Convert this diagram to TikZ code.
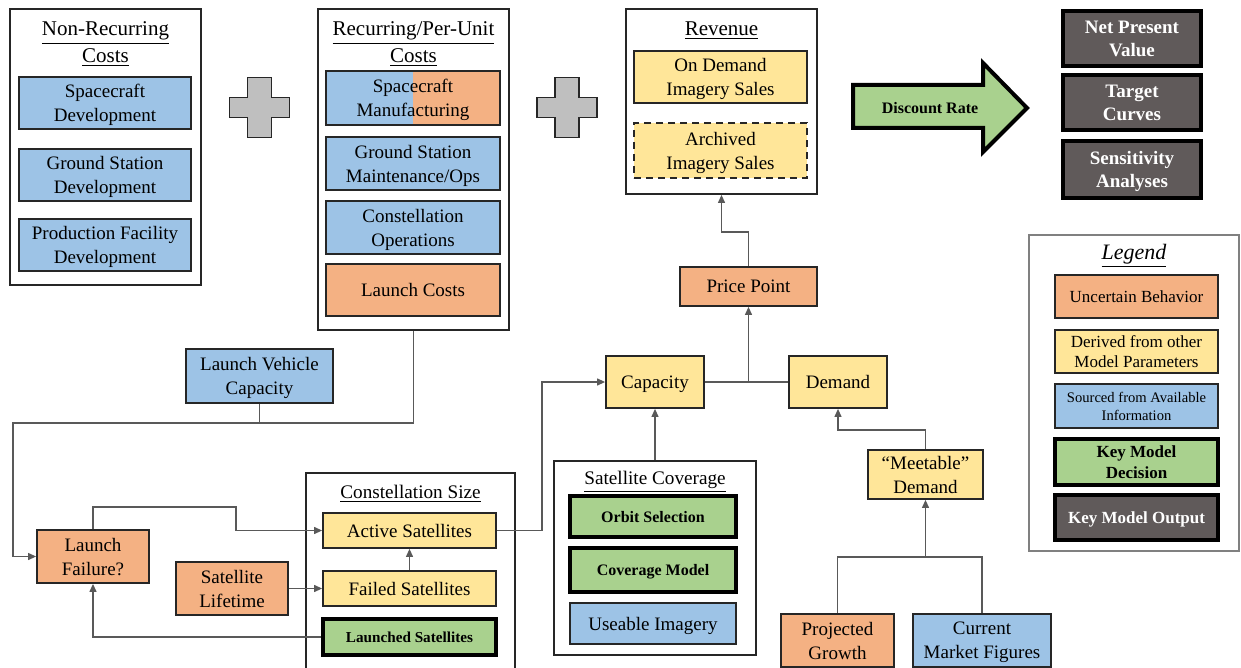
\documentclass[tikz,border=0pt]{standalone}
\usepackage{fontspec}
\setmainfont{Liberation Serif}
\usetikzlibrary{arrows.meta}

\definecolor{blueC}{RGB}{157,195,230}
\definecolor{orangeC}{RGB}{244,177,131}
\definecolor{yellowC}{RGB}{255,230,153}
\definecolor{greenC}{RGB}{169,209,142}
\definecolor{greyC}{RGB}{96,90,90}
\definecolor{plusC}{RGB}{191,191,191}
\definecolor{lineC}{RGB}{89,89,89}
\definecolor{edgeC}{RGB}{38,38,38}

\tikzset{
  box/.style={draw=edgeC, line width=0.9pt, align=center, inner sep=1pt, text depth=0pt, font=\fontsize{9.5}{12}\selectfont},
  uncert/.style={box, fill=orangeC},
  derived/.style={box, fill=yellowC},
  sourced/.style={box, fill=blueC},
  decision/.style={box, fill=greenC, draw=black, line width=1.8pt, font=\fontsize{8}{10}\selectfont\bfseries},
  output/.style={box, fill=greyC, draw=black, line width=1.8pt, text=white, font=\fontsize{9.5}{11.5}\selectfont\bfseries},
  lg/.style={minimum width=81.5pt, minimum height=21.5pt},
  frame/.style={draw=black!85, line width=0.9pt, fill=white},
  title/.style={align=center, inner sep=0pt, font=\fontsize{10.5}{13.5}\selectfont},
  wire/.style={draw=lineC, line width=0.6pt},
  flow/.style={wire, -{Triangle[length=4pt,width=3.5pt]}},
  plusst/.style={draw=edgeC, fill=plusC, line width=0.9pt},
}

\begin{document}
\begin{tikzpicture}[x=0.5pt,y=-0.5pt]
\useasboundingbox (0,0) rectangle (1241,668);

%Non-Recurring Costs
\node[frame, minimum width=95.5pt, minimum height=138pt] (nrc) at (105.5,147) {};
\node[title] (nrct) at (105.5,44.5) {\underline{Non-Recurring}\\\underline{Costs}};
\node[sourced, minimum width=86pt, minimum height=26pt] (scdev) at (105,103) {Spacecraft\\Development};
\node[sourced, minimum width=86pt, minimum height=26pt] (gsdev) at (105,175) {Ground Station\\Development};
\node[sourced, minimum width=86pt, minimum height=26pt] (pfdev) at (105,245) {Production Facility\\Development};

%Recurring Costs
\node[frame, minimum width=95.5pt, minimum height=160.5pt] (rec) at (413.5,169.5) {};
\node[title] (rect) at (413.5,44.5) {\underline{Recurring/Per-Unit}\\\underline{Costs}};
\node[sourced, minimum width=87pt, minimum height=27pt,
  path picture={\fill[orangeC] (path picture bounding box.south) rectangle (path picture bounding box.north east);}] (scman) at (413,98) {Spacecraft\\Manufacturing};
\node[sourced, minimum width=87pt, minimum height=26.5pt] (gsops) at (413,163.5) {Ground Station\\Maintenance/Ops};
\node[sourced, minimum width=87pt, minimum height=26.5pt] (conops) at (413,227.5) {Constellation\\Operations};
\node[uncert, minimum width=87pt, minimum height=26pt] (lcost) at (413,290) {Launch Costs};

%plus signs
\foreach \cx in {259.5,567} {
  \draw[plusst, shift={(\cx,107.5)}] (-12,-30) -- (12,-30) -- (12,-10) -- (30,-10) -- (30,10) -- (12,10)
    -- (12,30) -- (-12,30) -- (-12,10) -- (-30,10) -- (-30,-10) -- (-12,-10) -- cycle;
}

%Revenue
\node[frame, minimum width=95.5pt, minimum height=92.5pt] (rev) at (721.5,101.5) {};
\node[title] (revt) at (721.5,31) {\underline{Revenue}};
\node[derived, minimum width=86.5pt, minimum height=26pt] (odsales) at (720.5,77) {On Demand\\Imagery Sales};
\node[derived, dash pattern=on 3.5pt off 2.5pt, minimum width=86.5pt, minimum height=27.5pt] (arsales) at (720.5,150.5) {Archived\\Imagery Sales};

%Discount arrow
\draw[fill=greenC, line width=2pt, line join=miter] (853,85) -- (983,85) -- (983,63) -- (1027,108)
  -- (983,152) -- (983,128) -- (853,128) -- cycle;
\node[font=\fontsize{8}{10}\selectfont\bfseries] (disc) at (930,108) {Discount Rate};

%Outputs
\node[output, minimum width=69pt, minimum height=27.5pt] (npv) at (1132,38.5) {Net Present\\Value};
\node[output, minimum width=69pt, minimum height=27.5pt] (tcurve) at (1132,102.5) {Target\\Curves};
\node[output, minimum width=69pt, minimum height=28.5pt] (sens) at (1132,169.5) {Sensitivity\\Analyses};

%Legend
\node[frame, draw=black!50, minimum width=105pt, minimum height=158pt] (leg) at (1134,393) {};
\node[title, font=\fontsize{11}{13}\selectfont\itshape] (legt) at (1134,256) {\underline{Legend}};
\node[uncert, lg, font=\fontsize{8.5}{10}\selectfont] (lunc) at (1136.5,296.5) {Uncertain Behavior};
\node[derived, lg, font=\fontsize{8.5}{10}\selectfont] (lder) at (1136.5,351.5) {Derived from other\\Model Parameters};
\node[sourced, lg, minimum height=22pt, font=\fontsize{7.3}{9}\selectfont] (lsrc) at (1136.5,406) {Sourced from Available\\Information};
\node[decision, lg, minimum height=23pt, font=\fontsize{8.5}{10.5}\selectfont\bfseries] (ldec) at (1136.5,462) {Key Model\\Decision};
\node[output, lg, minimum height=22.5pt, font=\fontsize{8.5}{10.5}\selectfont\bfseries] (lout) at (1136.5,517.5) {Key Model Output};

%Launch side
\node[sourced, minimum width=73.5pt, minimum height=27pt] (lvc) at (259.5,376) {Launch Vehicle\\Capacity};
\node[uncert, minimum width=56pt, minimum height=26.5pt] (lfail) at (93,556.5) {Launch\\Failure?};
\node[uncert, minimum width=56pt, minimum height=26.5pt] (slife) at (232,588.5) {Satellite\\Lifetime};

%Constellation Size
\draw[draw=black!85, line width=0.9pt] (306,668) |- (515,473) -- (515,668);
\node[title, font=\fontsize{9.6}{12}\selectfont] (cont) at (410.5,494) {\underline{Constellation Size}};
\node[derived, minimum width=86.5pt, minimum height=17.5pt] (actsat) at (409.5,530.5) {Active Satellites};
\node[derived, minimum width=86.5pt, minimum height=17.5pt] (failsat) at (409.5,588.5) {Failed Satellites};
\node[decision, minimum width=86.5pt, minimum height=18pt, font=\fontsize{7.6}{9}\selectfont\bfseries] (lnsat) at (409.5,637) {Launched Satellites};

%Satellite Coverage
\node[frame, minimum width=101pt, minimum height=97pt] (cov) at (655,558) {};
\node[title, font=\fontsize{9.6}{12}\selectfont] (covt) at (655,482) {\underline{Satellite Coverage}};
\node[decision, minimum width=83pt, minimum height=20.5pt] (orbit) at (653,516.5) {Orbit Selection};
\node[decision, minimum width=83pt, minimum height=22pt] (covm) at (653,570) {Coverage Model};
\node[sourced, minimum width=83pt, minimum height=20.5pt] (useimg) at (653,623.5) {Useable Imagery};

%Market side
\node[uncert, minimum width=68.5pt, minimum height=19.5pt] (price) at (748.5,286.5) {Price Point};
\node[derived, minimum width=49pt, minimum height=26pt] (cap) at (655,382) {Capacity};
\node[derived, minimum width=49pt, minimum height=26pt] (dem) at (838,382) {Demand};
\node[derived, minimum width=57.5pt, minimum height=24.5pt] (meet) at (925.5,474.5) {“Meetable”\\Demand};
\node[uncert, minimum width=56.5pt, minimum height=26.5pt] (projg) at (837.5,640.5) {Projected\\Growth};
\node[sourced, minimum width=69pt, minimum height=26.5pt] (curmk) at (982,640.5) {Current\\Market Figures};

%bends
\coordinate (lvbend) at (13,423);
\coordinate (fbend) at (236,507);
\coordinate (abend) at (542,382);
\coordinate (pbend) at (721.5,232);
\coordinate (mbend) at (838,430);
\coordinate (gbend) at (925.5,557);

%Connectors
\draw[wire] (lvc.south) -- (lvc.south |- lvbend);
\draw[flow] (rec.south) |- (lvbend) |- (lfail.west);
\draw[flow] (lfail.north) |- (fbend) |- (actsat.west);
\draw[flow] (slife.east) -- (failsat.west);
\draw[flow] (failsat) -- (actsat);
\draw[flow] (lnsat.west) -| (lfail.south);
\draw[flow] (actsat.east) -| (abend) -- (cap.west);
\draw[flow] (cov.north) -- (cap.south);
\draw[wire] (cap.east) -- (dem.west);
\draw[flow] (price.south |- cap.east) -- (price.south);
\draw[flow] (price.north) |- (pbend) -- (rev.south);
\draw[flow] (meet.north) |- (mbend) -- (dem.south);
\draw[wire] (projg.north) |- (gbend) -| (curmk.north);
\draw[flow] (gbend) -- (meet.south);
\end{tikzpicture}
\end{document}
